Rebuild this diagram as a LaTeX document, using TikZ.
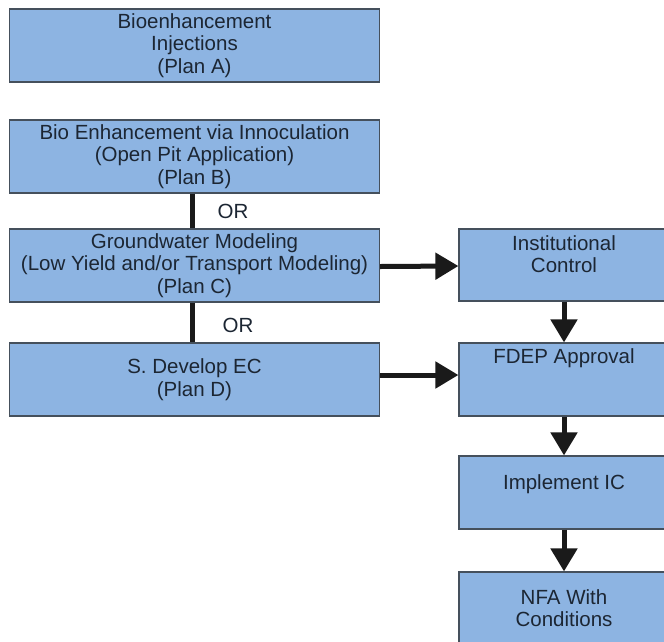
\documentclass[tikz,border=0pt]{standalone}
\usepackage{fontspec}
\setmainfont{Liberation Sans}
\usetikzlibrary{arrows.meta}
\definecolor{boxfill}{HTML}{8DB4E2}
\definecolor{boxline}{HTML}{45505C}
\definecolor{txt}{HTML}{1C2633}
\definecolor{arr}{HTML}{1A1A1A}
\tikzset{
  planbox/.style={draw=boxline, fill=boxfill, line width=1.2pt, inner sep=0pt,
    minimum width=370pt, minimum height=73pt, align=center, text=txt,
    font=\fontsize{20.5}{22.5}\selectfont},
  rbox/.style={draw=boxline, fill=boxfill, line width=1.2pt, inner sep=0pt,
    minimum width=210pt, minimum height=73pt},
  rtext/.style={anchor=north, inner sep=0pt, align=center, text=txt,
    font=\fontsize{20.5}{22.5}\selectfont},
  ortext/.style={anchor=base, inner sep=0pt, text=txt,
    font=\fontsize{20.5}{22.5}\selectfont},
  orline/.style={draw=arr, line width=5pt},
  bigarrow/.style={draw=arr, line width=5pt, -{Triangle[width=26pt,length=23pt]}, arr}
}
\begin{document}
\begin{tikzpicture}[x=1pt,y=-1pt]
\fill[white] (0,0) rectangle (664,641);
\clip (0,0) rectangle (664,641);
% left column
\node[planbox] (A) at (194.5,45.5) {Bioenhancement\\Injections\\(Plan A)};
\node[planbox] (B) at (194.5,156.5) {Bio Enhancement via Innoculation\\(Open Pit Application)\\(Plan B)};
\node[planbox] (C) at (194.5,265.5) {Groundwater Modeling\\(Low Yield and/or Transport Modeling)\\(Plan C)};
\node[planbox] (D) at (194.5,379.5) {S. Develop EC\\(Plan D)};
% right column
\node[rbox, minimum height=72pt] (I) at (564,265) {};
\node[rbox] (F) at (564,379.5) {};
\node[rbox] (M) at (564,492.5) {};
\node[rbox] (N) at (564,608.5) {};
\node[rtext] (It) at (564,235) {Institutional\\Control};
\node[rtext] (Ft) at (564,348) {FDEP Approval};
\node[rtext] (Mt) at (564,474) {Implement IC};
\node[rtext] (Nt) at (564,589) {NFA With\\Conditions};
% OR connectors
\draw[orline] ([xshift=-2.5pt]B.south) -- ([xshift=-2.5pt]C.north);
\draw[orline] ([xshift=-2.5pt]C.south) -- ([xshift=-2.5pt]D.north);
\node[ortext] (or1) at (233,218) {OR};
\node[ortext] (or2) at (238,332) {OR};
% arrows
\draw[bigarrow] ([yshift=-1pt]C.east) -- ([yshift=-1pt]I.west);
\draw[bigarrow] ([yshift=4.5pt]D.east) -- ([yshift=4.5pt]F.west);
\draw[bigarrow] (I.south) -- (F.north);
\draw[bigarrow] (F.south) -- (M.north);
\draw[bigarrow] (M.south) -- (N.north);
\end{tikzpicture}
\end{document}
